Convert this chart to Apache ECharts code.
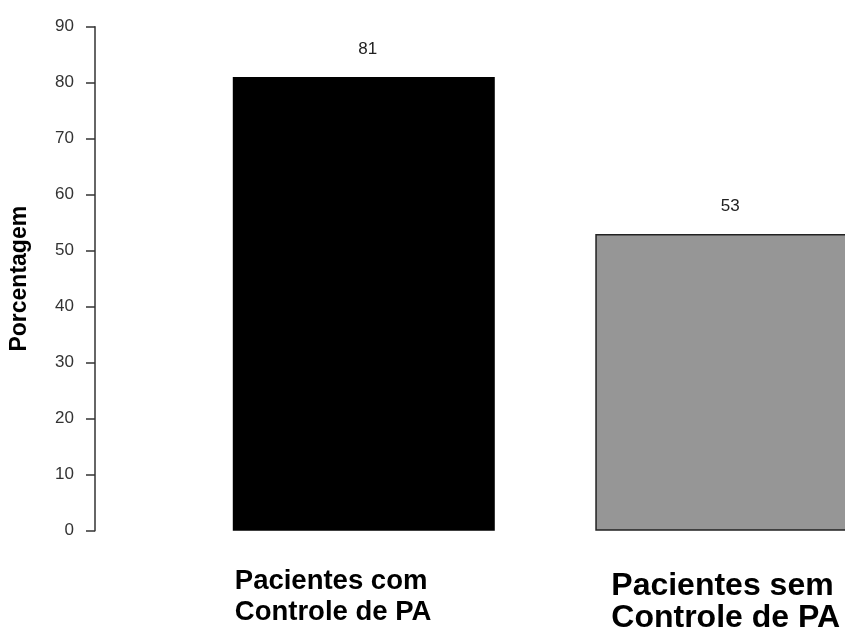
<!DOCTYPE html>
<html>
<head>
<meta charset="utf-8">
<script src="https://cdn.jsdelivr.net/npm/echarts@6/dist/echarts.min.js"></script>
<style>
  html, body { margin: 0; padding: 0; background: #fff; }
  #chart { width: 845px; height: 630px; }
</style>
</head>
<body>
<div id="chart"></div>
<script>
// Percentage of patients by blood-pressure control status
const categories = ['Pacientes com\nControle de PA', 'Pacientes sem\nControle de PA'];
const percentages = [81, 53];
const barColors = ['#000000', '#969696'];
const yTicks = [0, 10, 20, 30, 40, 50, 60, 70, 80, 90];
const yTitle = 'Porcentagem';

const chart = echarts.init(document.getElementById('chart'), null, { renderer: 'canvas' });

// Bars sit at positions 0, 1 on a hidden numeric x scale; the visible range
// leaves a wide gap after the y axis and lets the second bar run off the edge.
const xRange = { min: -0.7415, max: 1.3275 };

chart.setOption({
  animation: false,
  backgroundColor: '#ffffff',
  grid: { left: 94, right: 0, top: 26.7, bottom: 99.3, containLabel: false },
  xAxis: {
    type: 'value',
    min: xRange.min,
    max: xRange.max,
    show: false
  },
  yAxis: {
    type: 'value',
    min: yTicks[0],
    max: yTicks[yTicks.length - 1],
    interval: 10,
    name: yTitle,
    nameLocation: 'middle',
    nameGap: 64,
    nameTextStyle: { fontFamily: 'Liberation Sans, Arial', fontWeight: 'bold', fontSize: 23, color: '#000' },
    axisLine: { show: true, onZero: false, lineStyle: { color: '#333', width: 1.5 } },
    axisTick: { show: true, inside: false, length: 9, lineStyle: { color: '#333', width: 1.5 } },
    axisLabel: { fontFamily: 'Liberation Sans, Arial', fontSize: 17, color: '#333', margin: 21 },
    splitLine: { show: false }
  },
  series: [{
    type: 'bar',
    barWidth: 262,
    clip: false,
    data: percentages.map((v, i) => ({
      value: [i, v],
      itemStyle: { color: barColors[i], borderColor: '#222', borderWidth: i === 0 ? 0 : 1.5 }
    })),
    label: {
      show: true,
      position: 'top',
      distance: 19,
      offset: [4, 0],
      fontFamily: 'Liberation Sans, Arial',
      fontSize: 17,
      color: '#222',
      formatter: p => String(p.value[1])
    }
  }]
});

// Category captions under each bar, left-aligned near the bar's left edge
const captionStyle = [
  { dx: -129, top: 566, fontSize: 27.5, lineHeight: 31 },
  { dx: -115, top: 570, fontSize: 32, lineHeight: 32 }
];
const graphics = categories.map((name, i) => {
  const cx = chart.convertToPixel({ xAxisIndex: 0 }, i);
  const s = captionStyle[i];
  return {
    type: 'text',
    left: cx + s.dx,
    top: s.top,
    style: {
      text: name,
      font: 'bold ' + s.fontSize + 'px "Liberation Sans", Arial',
      lineHeight: s.lineHeight,
      fill: '#000',
      textAlign: 'left'
    }
  };
});
chart.setOption({ graphic: graphics });
</script>
</body>
</html>
